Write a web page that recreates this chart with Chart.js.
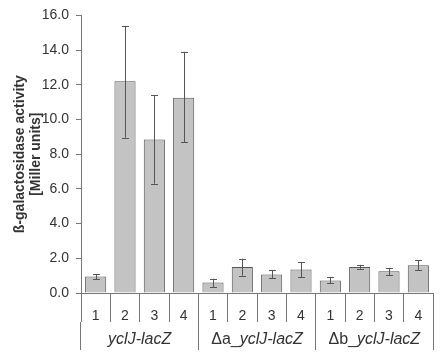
<!DOCTYPE html>
<html>
<head>
<meta charset="utf-8">
<script src="https://cdn.jsdelivr.net/npm/chart.js@4.4.0/dist/chart.umd.min.js"></script>
<style>
  html, body { margin: 0; padding: 0; background: #fff; }
  #wrap { width: 440px; height: 352px; }
</style>
</head>
<body>
<div id="wrap"><canvas id="myChart"></canvas></div>
<script>
// данные с картинки
const labels = ['1', '2', '3', '4', '1', '2', '3', '4', '1', '2', '3', '4'];
const groups = ['yclJ-lacZ', 'Δa_yclJ-lacZ', 'Δb_yclJ-lacZ'];
const activity = [0.95, 12.2, 8.85, 11.25, 0.6, 1.5, 1.07, 1.35, 0.72, 1.5, 1.25, 1.6];
const errLow = [0.8, 8.95, 6.3, 8.7, 0.35, 1.0, 0.86, 0.92, 0.55, 1.39, 1.02, 1.3];
const errHigh = [1.08, 15.4, 11.4, 13.9, 0.82, 1.98, 1.3, 1.79, 0.9, 1.62, 1.45, 1.9];
const yTicks = [0, 2, 4, 6, 8, 10, 12, 14, 16];

const grey = '#555555';

// усы ошибок
const errorBars = {
  id: 'errorBars',
  afterDatasetsDraw(chart) {
    const ctx = chart.ctx;
    const y = chart.scales.y;
    const meta = chart.getDatasetMeta(0);
    ctx.save();
    ctx.strokeStyle = grey;
    ctx.lineWidth = 1;
    meta.data.forEach((bar, i) => {
      const x = Math.round(bar.x) + 0.5;
      const top = y.getPixelForValue(errHigh[i]);
      const bot = y.getPixelForValue(errLow[i]);
      ctx.beginPath();
      ctx.moveTo(x, top); ctx.lineTo(x, bot);
      ctx.moveTo(x - 3.5, Math.round(top) + 0.5); ctx.lineTo(x + 3.5, Math.round(top) + 0.5);
      ctx.moveTo(x - 3.5, Math.round(bot) + 0.5); ctx.lineTo(x + 3.5, Math.round(bot) + 0.5);
      ctx.stroke();
    });
    ctx.restore();
  }
};

// подписи групп: Δa_ прямым, имя гена курсивом
const groupLabels = {
  id: 'groupLabels',
  afterDraw(chart) {
    const ctx = chart.ctx;
    const s = chart.scales.x2;
    ctx.save();
    ctx.fillStyle = '#333';
    ctx.textBaseline = 'alphabetic';
    groups.forEach((g, i) => {
      const cx = s.getPixelForTick(i);
      const m = g.match(/^(Δ[ab]_)?(.*)$/);
      const pre = m[1] || '';
      const gene = m[2];
      ctx.font = '16px "Liberation Sans", Arial, sans-serif';
      const w1 = ctx.measureText(pre).width;
      ctx.font = 'italic 16px "Liberation Sans", Arial, sans-serif';
      const w2 = ctx.measureText(gene).width;
      let x = cx - (w1 + w2) / 2;
      const yy = s.top + 22;
      ctx.font = '16px "Liberation Sans", Arial, sans-serif';
      ctx.fillText(pre, x, yy);
      ctx.font = 'italic 16px "Liberation Sans", Arial, sans-serif';
      ctx.fillText(gene, x + w1, yy);
    });
    ctx.restore();
  }
};

const ctx = document.getElementById('myChart');
const myChart = new Chart(ctx, {
  type: 'bar',
  data: {
    labels: labels,
    datasets: [{
      data: activity,
      backgroundColor: '#c3c3c3',
      borderColor: grey,
      borderWidth: 1,
      categoryPercentage: 1,
      barPercentage: 0.72
    }]
  },
  options: {
    responsive: true,
    maintainAspectRatio: false,
    animation: false,
    layout: { padding: { top: 2, right: 7, left: 0, bottom: 0 } },
    plugins: { legend: { display: false }, tooltip: { enabled: false } },
    scales: {
      x: {
        position: 'bottom',
        grid: { offset: true, drawOnChartArea: false, tickLength: 29, color: '#777' },
        border: { color: '#777' },
        ticks: { color: '#333', font: { family: '"Liberation Sans", Arial, sans-serif', size: 14 }, padding: -14, maxRotation: 0 },
        afterFit(scale) { scale.height = 29; }
      },
      x2: {
        type: 'category',
        labels: groups,
        position: 'bottom',
        grid: { offset: true, drawOnChartArea: false, tickLength: 28, color: '#777' },
        border: { display: false },
        ticks: { display: false },
        afterFit(scale) { scale.height = 30; }
      },
      y: {
        min: 0,
        max: 16,
        afterBuildTicks(scale) { scale.ticks = yTicks.map(v => ({ value: v })); },
        grid: { drawOnChartArea: false, tickLength: 5, color: '#777' },
        border: { color: '#777' },
        ticks: {
          color: '#333',
          padding: 7,
          font: { family: '"Liberation Sans", Arial, sans-serif', size: 14 },
          callback: v => v.toFixed(1)
        },
        title: {
          display: true,
          text: ['ß-galactosidase activity', '[Miller units]'],
          color: '#333',
          font: { family: '"Liberation Sans", Arial, sans-serif', size: 14, weight: 'bold', lineHeight: 1.15 },
          padding: { top: 12, bottom: 0 }
        },
        afterFit(scale) { scale.width = 81; }
      }
    }
  },
  plugins: [errorBars, groupLabels]
});
</script>
</body>
</html>
